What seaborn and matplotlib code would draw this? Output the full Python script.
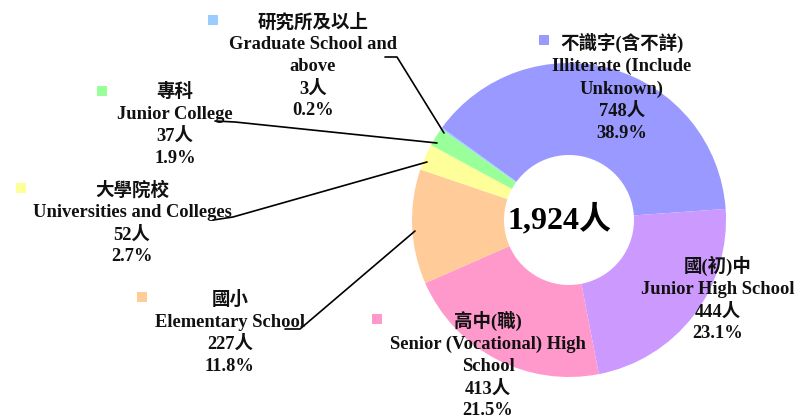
import matplotlib
matplotlib.use("Agg")
import matplotlib.pyplot as plt
import seaborn as sns

# data
names_zh = ["不識字(含不詳)", "國(初)中", "高中(職)", "國小", "大學院校", "專科", "研究所及以上"]
names_en = ["Illiterate (Include\nUnknown)", "Junior High School", "Senior (Vocational) High\nSchool",
            "Elementary School", "Universities and Colleges", "Junior College", "Graduate School and\nabove"]
counts = [748, 444, 413, 227, 52, 37, 3]
pcts = [38.9, 23.1, 21.5, 11.8, 2.7, 1.9, 0.2]
colors = ["#9999FF", "#CC99FF", "#FF99CC", "#FFCC99", "#FFFF99", "#99FF99", "#99CCFF"]
total_label = "1,924人"

# label layout (pixel coords, y from top): text centre x, text top y, marker x/y, leader line
layout = [
    dict(x=622, y=33, mk=(544, 40), line=None),
    dict(x=718, y=256, mk=None, line=None),
    dict(x=488, y=311, mk=(377, 319), line=None),
    dict(x=230, y=291, mk=(142, 297), line=[(285, 329), (300, 329), (415, 231)]),
    dict(x=132, y=181, mk=(21, 188), line=[(213, 220), (233, 217), (427, 162)]),
    dict(x=175, y=83, mk=(102, 91), line=[(215, 121), (235, 122), (437, 143)]),
    dict(x=313, y=13, mk=(213, 20), line=[(385, 57), (397, 57), (444, 133)]),
]

sns.set_theme(style="white")
FONT = ["Liberation Serif", "Noto Sans CJK TC"]
plt.rcParams["font.family"] = FONT

W, H = 795, 419
fig = plt.figure(figsize=(W / 100, H / 100), dpi=100)
ax = fig.add_axes([0, 0, 1, 1])

cx, cy, r_out, r_in = 569, 220, 157, 65
ax.pie(counts, colors=colors, startangle=144, counterclock=False,
       center=(cx, H - cy), radius=r_out, frame=True,
       wedgeprops=dict(width=r_out - r_in, linewidth=0))
ax.set_xlim(0, W)
ax.set_ylim(0, H)
ax.set_aspect("equal")
ax.axis("off")

ax.text(cx - 10, H - cy, total_label, ha="center", va="center", fontsize=23,
        fontweight="bold", color="black", family=FONT)

for zh, en, n, p, col, lay in zip(names_zh, names_en, counts, pcts, colors, layout):
    txt = f"{zh}\n{en}\n{n}人\n{p:.1f}%"
    ax.text(lay["x"], H - lay["y"], txt, ha="center", va="top", fontsize=13.3,
            fontweight="bold", color="#111111", family=FONT, linespacing=1.37,
            multialignment="center")
    if lay["mk"] is not None:
        mx, my = lay["mk"]
        ax.add_patch(plt.Rectangle((mx - 5, H - my - 5), 10, 10, color=col, lw=0))
    if lay["line"] is not None:
        xs = [pt[0] for pt in lay["line"]]
        ys = [H - pt[1] for pt in lay["line"]]
        ax.plot(xs, ys, color="black", lw=1.2)

fig.savefig("out.png", dpi=100)
